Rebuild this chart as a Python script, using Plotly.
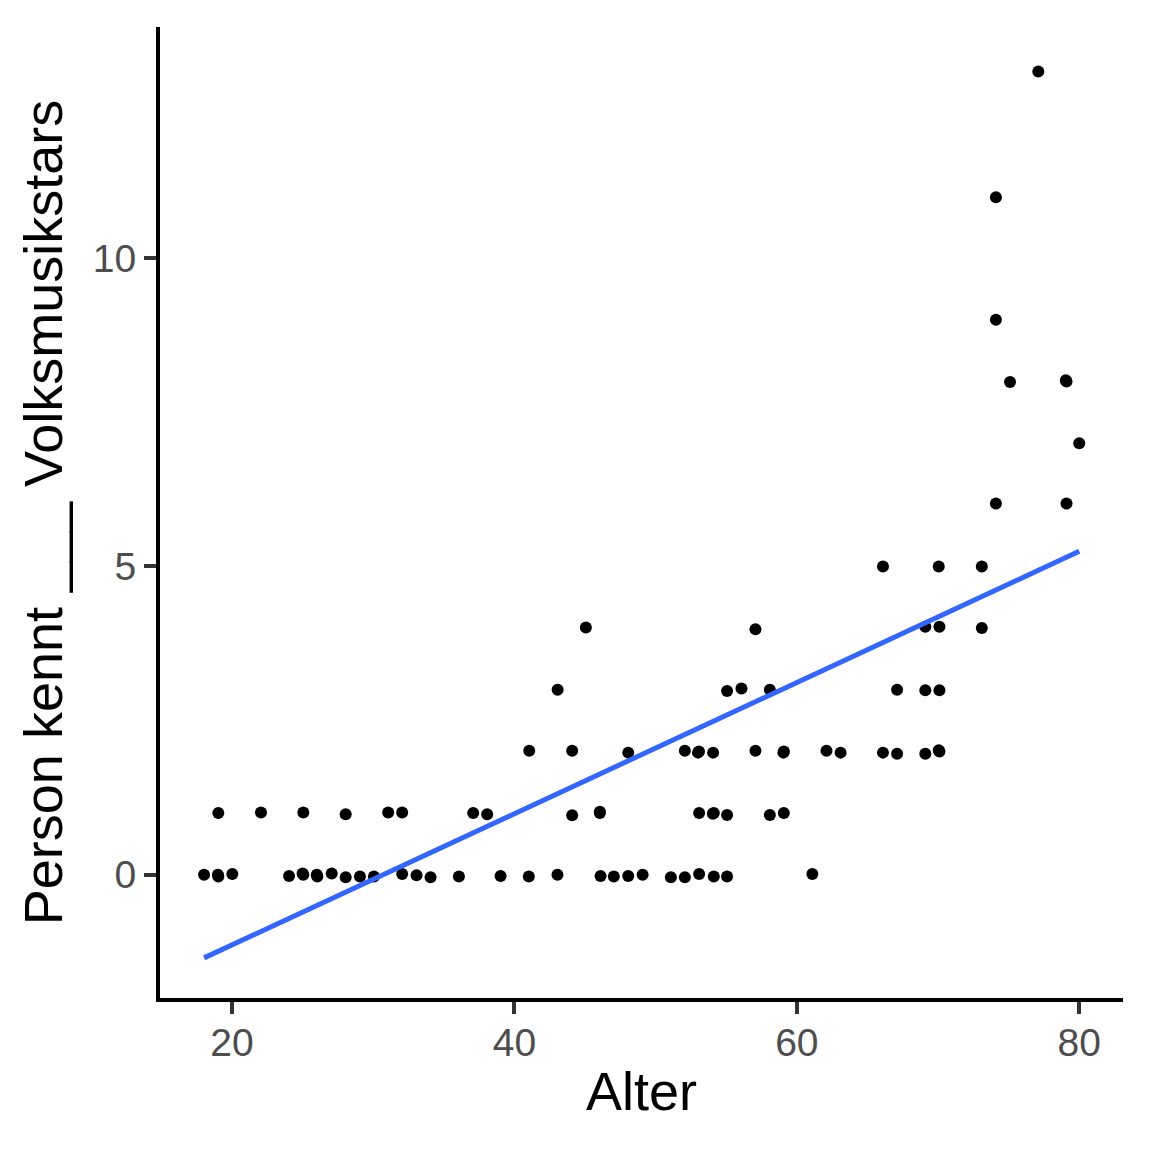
import numpy as np
import plotly.graph_objects as go

# Alter (age) and number of known folk-music stars (with slight jitter as plotted)
alter = [
    # ~0
    18.02, 19.03, 19.0, 20.02, 24.04, 25.05, 25.0, 26.04, 26.0, 27.06, 28.05, 29.06, 30.05,
    32.05, 33.07, 34.06, 36.07, 39.02, 41.02, 43.05, 46.1, 47.04, 48.06, 49.08,
    51.08, 52.07, 53.08, 54.12, 55.06, 61.1,
    # ~1
    19.03, 22.05, 25.05, 28.05, 31.06, 32.05, 37.08, 38.07, 44.09, 46.05, 46.05,
    53.08, 54.12, 54.05, 55.06, 58.09, 59.08,
    # ~2
    41.05, 44.09, 48.06, 52.07, 53.07, 53.0, 54.07, 57.07, 59.08, 59.05, 62.1,
    63.1, 66.1, 67.1, 69.1, 70.1, 70.05,
    # ~3
    43.06, 55.06, 56.08, 58.09, 67.1, 69.1, 70.1,
    # ~4
    45.06, 57.07, 69.1, 70.1, 73.1,
    # ~5
    66.1, 70.05, 73.1,
    # ~6..13
    74.1, 79.1, 80.0, 75.1, 79.1, 79.05, 74.1, 74.1, 77.1,
]
stars = [
    0.00, -0.03, 0.0, 0.01, -0.02, 0.00, 0.02, -0.03, 0.00, 0.02, -0.04, -0.03, -0.03,
    0.01, -0.01, -0.04, -0.03, -0.02, -0.03, 0.00, -0.02, -0.03, -0.02, 0.00,
    -0.04, -0.04, 0.01, -0.03, -0.03, 0.01,
    1.00, 1.01, 1.01, 0.98, 1.01, 1.01, 1.00, 0.98, 0.965, 1.00, 1.02,
    1.00, 1.00, 0.99, 0.97, 0.97, 1.00,
    2.01, 2.01, 1.98, 2.01, 2.00, 1.98, 1.98, 2.01, 2.00, 1.98, 2.01,
    1.98, 1.98, 1.96, 1.96, 2.00, 2.02,
    3.00, 2.98, 3.02, 3.00, 3.00, 2.99, 2.99,
    4.01, 3.98, 4.02, 4.02, 4.00,
    5.00, 5.00, 5.00,
    6.02, 6.02, 7.00, 7.99, 8.00, 8.02, 9.00, 10.99, 13.03,
]

x_ticks = [20, 40, 60, 80]
y_ticks = [0, 5, 10]

x = np.array(alter)
y = np.array(stars)
slope, intercept = np.polyfit(x, y, 1)
xfit = np.array([x.min(), x.max()])
yfit = intercept + slope * xfit

FONT = "Liberation Sans, Arial, Helvetica, sans-serif"

fig = go.Figure()
fig.add_trace(go.Scatter(
    x=alter, y=stars, mode="markers",
    marker=dict(color="black", size=12, line=dict(width=0)),
    showlegend=False, hoverinfo="skip",
))
fig.add_trace(go.Scatter(
    x=xfit, y=yfit, mode="lines",
    line=dict(color="#3366FF", width=5),
    showlegend=False, hoverinfo="skip",
))

axis_common = dict(
    showgrid=False, zeroline=False, showline=True, linecolor="black", linewidth=4,
    ticks="outside", ticklen=12, tickwidth=4, tickcolor="#333333",
    tickfont=dict(family=FONT, size=39, color="#4D4D4D"),
    mirror=False,
)

fig.update_layout(
    width=1152, height=1152,
    paper_bgcolor="white", plot_bgcolor="white",
    margin=dict(l=152, r=37, t=19, b=162),
    font=dict(family=FONT),
    xaxis=dict(
        **axis_common, range=[14.9, 83.1], tickvals=x_ticks, ticklabelstandoff=-5,
        title=dict(text="Alter", font=dict(family=FONT, size=54, color="black"), standoff=10),
    ),
    yaxis=dict(
        **axis_common, range=[-2.0, 13.75], tickvals=y_ticks,
        title=dict(text="Person kennt ___ Volksmusikstars",
                   font=dict(family=FONT, size=54, color="black"), standoff=14),
    ),
)

fig.write_html("out.html")
